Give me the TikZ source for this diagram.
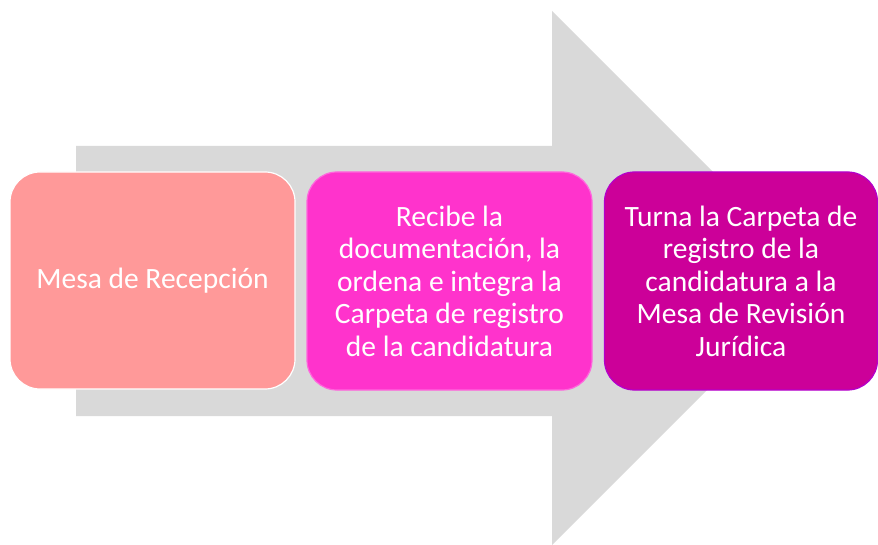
\documentclass[tikz,border=0pt]{standalone}
\usepackage{fontspec}
\setmainfont{Carlito}
\definecolor{arrowgray}{HTML}{D9D9D9}
\definecolor{boxA}{HTML}{FF9999}
\definecolor{boxB}{HTML}{FF33CC}
\definecolor{boxC}{HTML}{CC0099}
\definecolor{lineB}{HTML}{FF66DD}
\definecolor{lineC}{HTML}{B400CC}
\tikzset{
  stepbox/.style={rectangle, rounded corners=30pt, line width=1.2pt,
    text=white, align=center, inner sep=0pt,
    font=\fontsize{29.5}{32.5}\selectfont,
    execute at begin node={\spaceskip=0.226em\relax}},
}
\begin{document}
\begin{tikzpicture}[x=1pt,y=-1pt]
\useasboundingbox (0,0) rectangle (878,545);
\fill[arrowgray] (76,146) -- (552,146) -- (552,11) -- (819,278) -- (552,545) -- (552,416) -- (76,416) -- cycle;
\node[stepbox, fill=boxA, draw=white, minimum width=285pt, minimum height=217pt, text width=275pt] (a) at (152.5,280.5) {Mesa de Recepción};
\node[stepbox, fill=boxB, draw=lineB, minimum width=285pt, minimum height=218pt, text width=270pt] (b) at (449.5,281) {Recibe la\\documentación, la\\ordena e integra la\\Carpeta de registro\\de la candidatura};
\node[stepbox, fill=boxC, draw=lineC, minimum width=273pt, minimum height=218pt, text width=265pt] (c) at (741,281) {Turna la Carpeta de\\registro de la\\candidatura a la\\Mesa de Revisión\\Jurídica};
\end{tikzpicture}
\end{document}
